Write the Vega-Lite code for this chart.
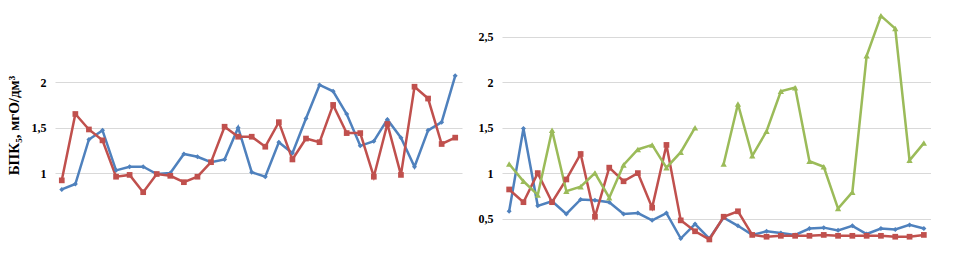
{
  "$schema": "https://vega.github.io/schema/vega-lite/v6.json",
  "background": "white",
  "padding": {"left": 6, "top": 10, "right": 0, "bottom": 0},
  "bounds": "flush",
  "spacing": 40,
  "config": {
    "view": {"stroke": null},
    "axis": {"labelFont": "Liberation Serif", "labelFontWeight": "bold", "labelFontSize": 12, "labelColor": "#000000", "titleFont": "Liberation Serif", "titleFontWeight": "bold", "titleFontSize": 15, "titleColor": "#000000", "gridColor": "#D9D9D9", "gridWidth": 1, "domain": false, "ticks": false, "labelOverlap": false}
  },
  "datasets": {
    "left": [
      {"i": 1, "s": "a", "v": 0.82}, {"i": 2, "s": "a", "v": 0.88}, {"i": 3, "s": "a", "v": 1.37}, {"i": 4, "s": "a", "v": 1.47}, {"i": 5, "s": "a", "v": 1.03},
      {"i": 6, "s": "a", "v": 1.07}, {"i": 7, "s": "a", "v": 1.07}, {"i": 8, "s": "a", "v": 0.99}, {"i": 9, "s": "a", "v": 1.0}, {"i": 10, "s": "a", "v": 1.21},
      {"i": 11, "s": "a", "v": 1.18}, {"i": 12, "s": "a", "v": 1.12}, {"i": 13, "s": "a", "v": 1.15}, {"i": 14, "s": "a", "v": 1.5}, {"i": 15, "s": "a", "v": 1.01},
      {"i": 16, "s": "a", "v": 0.96}, {"i": 17, "s": "a", "v": 1.34}, {"i": 18, "s": "a", "v": 1.22}, {"i": 19, "s": "a", "v": 1.6}, {"i": 20, "s": "a", "v": 1.97},
      {"i": 21, "s": "a", "v": 1.9}, {"i": 22, "s": "a", "v": 1.65}, {"i": 23, "s": "a", "v": 1.3}, {"i": 24, "s": "a", "v": 1.35}, {"i": 25, "s": "a", "v": 1.59},
      {"i": 26, "s": "a", "v": 1.39}, {"i": 27, "s": "a", "v": 1.07}, {"i": 28, "s": "a", "v": 1.47}, {"i": 29, "s": "a", "v": 1.56}, {"i": 30, "s": "a", "v": 2.07},
      {"i": 1, "s": "b", "v": 0.92}, {"i": 2, "s": "b", "v": 1.65}, {"i": 3, "s": "b", "v": 1.48}, {"i": 4, "s": "b", "v": 1.36}, {"i": 5, "s": "b", "v": 0.96},
      {"i": 6, "s": "b", "v": 0.98}, {"i": 7, "s": "b", "v": 0.79}, {"i": 8, "s": "b", "v": 0.99}, {"i": 9, "s": "b", "v": 0.97}, {"i": 10, "s": "b", "v": 0.9},
      {"i": 11, "s": "b", "v": 0.96}, {"i": 12, "s": "b", "v": 1.12}, {"i": 13, "s": "b", "v": 1.51}, {"i": 14, "s": "b", "v": 1.4}, {"i": 15, "s": "b", "v": 1.4},
      {"i": 16, "s": "b", "v": 1.29}, {"i": 17, "s": "b", "v": 1.56}, {"i": 18, "s": "b", "v": 1.15}, {"i": 19, "s": "b", "v": 1.38}, {"i": 20, "s": "b", "v": 1.34},
      {"i": 21, "s": "b", "v": 1.75}, {"i": 22, "s": "b", "v": 1.44}, {"i": 23, "s": "b", "v": 1.44}, {"i": 24, "s": "b", "v": 0.96}, {"i": 25, "s": "b", "v": 1.54},
      {"i": 26, "s": "b", "v": 0.98}, {"i": 27, "s": "b", "v": 1.95}, {"i": 28, "s": "b", "v": 1.82}, {"i": 29, "s": "b", "v": 1.32}, {"i": 30, "s": "b", "v": 1.39}
    ],
    "right": [
      {"i": 1, "s": "a", "v": 0.58}, {"i": 2, "s": "a", "v": 1.49}, {"i": 3, "s": "a", "v": 0.64}, {"i": 4, "s": "a", "v": 0.69}, {"i": 5, "s": "a", "v": 0.55},
      {"i": 6, "s": "a", "v": 0.71}, {"i": 7, "s": "a", "v": 0.7}, {"i": 8, "s": "a", "v": 0.68}, {"i": 9, "s": "a", "v": 0.55}, {"i": 10, "s": "a", "v": 0.56},
      {"i": 11, "s": "a", "v": 0.48}, {"i": 12, "s": "a", "v": 0.56}, {"i": 13, "s": "a", "v": 0.28}, {"i": 14, "s": "a", "v": 0.44}, {"i": 15, "s": "a", "v": 0.28},
      {"i": 16, "s": "a", "v": 0.51}, {"i": 17, "s": "a", "v": 0.42}, {"i": 18, "s": "a", "v": 0.32}, {"i": 19, "s": "a", "v": 0.36}, {"i": 20, "s": "a", "v": 0.34},
      {"i": 21, "s": "a", "v": 0.32}, {"i": 22, "s": "a", "v": 0.39}, {"i": 23, "s": "a", "v": 0.4}, {"i": 24, "s": "a", "v": 0.37}, {"i": 25, "s": "a", "v": 0.42},
      {"i": 26, "s": "a", "v": 0.33}, {"i": 27, "s": "a", "v": 0.39}, {"i": 28, "s": "a", "v": 0.38}, {"i": 29, "s": "a", "v": 0.43}, {"i": 30, "s": "a", "v": 0.39},
      {"i": 1, "s": "b", "v": 0.82}, {"i": 2, "s": "b", "v": 0.68}, {"i": 3, "s": "b", "v": 1.0}, {"i": 4, "s": "b", "v": 0.68}, {"i": 5, "s": "b", "v": 0.93},
      {"i": 6, "s": "b", "v": 1.21}, {"i": 7, "s": "b", "v": 0.52}, {"i": 8, "s": "b", "v": 1.06}, {"i": 9, "s": "b", "v": 0.91}, {"i": 10, "s": "b", "v": 1.0},
      {"i": 11, "s": "b", "v": 0.62}, {"i": 12, "s": "b", "v": 1.31}, {"i": 13, "s": "b", "v": 0.48}, {"i": 14, "s": "b", "v": 0.36}, {"i": 15, "s": "b", "v": 0.27},
      {"i": 16, "s": "b", "v": 0.52}, {"i": 17, "s": "b", "v": 0.58}, {"i": 18, "s": "b", "v": 0.32}, {"i": 19, "s": "b", "v": 0.3}, {"i": 20, "s": "b", "v": 0.31},
      {"i": 21, "s": "b", "v": 0.31}, {"i": 22, "s": "b", "v": 0.31}, {"i": 23, "s": "b", "v": 0.32}, {"i": 24, "s": "b", "v": 0.31}, {"i": 25, "s": "b", "v": 0.31},
      {"i": 26, "s": "b", "v": 0.31}, {"i": 27, "s": "b", "v": 0.31}, {"i": 28, "s": "b", "v": 0.3}, {"i": 29, "s": "b", "v": 0.3}, {"i": 30, "s": "b", "v": 0.32},
      {"i": 1, "s": "c", "v": 1.1}, {"i": 2, "s": "c", "v": 0.91}, {"i": 3, "s": "c", "v": 0.76}, {"i": 4, "s": "c", "v": 1.47}, {"i": 5, "s": "c", "v": 0.8},
      {"i": 6, "s": "c", "v": 0.85}, {"i": 7, "s": "c", "v": 1.0}, {"i": 8, "s": "c", "v": 0.73}, {"i": 9, "s": "c", "v": 1.09}, {"i": 10, "s": "c", "v": 1.26},
      {"i": 11, "s": "c", "v": 1.31}, {"i": 12, "s": "c", "v": 1.06}, {"i": 13, "s": "c", "v": 1.23}, {"i": 14, "s": "c", "v": 1.5}, {"i": 15, "s": "c", "v": null},
      {"i": 16, "s": "c", "v": 1.1}, {"i": 17, "s": "c", "v": 1.76}, {"i": 18, "s": "c", "v": 1.19}, {"i": 19, "s": "c", "v": 1.46}, {"i": 20, "s": "c", "v": 1.9},
      {"i": 21, "s": "c", "v": 1.94}, {"i": 22, "s": "c", "v": 1.13}, {"i": 23, "s": "c", "v": 1.07}, {"i": 24, "s": "c", "v": 0.61}, {"i": 25, "s": "c", "v": 0.79},
      {"i": 26, "s": "c", "v": 2.29}, {"i": 27, "s": "c", "v": 2.73}, {"i": 28, "s": "c", "v": 2.59}, {"i": 29, "s": "c", "v": 1.14}, {"i": 30, "s": "c", "v": 1.33}
    ]
  },
  "hconcat": [
    {
      "width": 407,
      "height": 250,
      "data": {"name": "left"},
      "encoding": {
        "x": {"field": "i", "type": "ordinal", "scale": {"type": "point", "padding": 0.5}, "axis": null},
        "y": {"field": "v", "type": "quantitative", "scale": {"domain": [0, 2.75], "nice": false, "zero": false},
          "axis": {"values": [1, 1.5, 2], "labelExpr": "replace(format(datum.value, ''), '.', ',')", "labelPadding": 9, "title": "БПК₅, мгО/дм³", "titlePadding": 10, "titleY": 111}},
        "color": {"field": "s", "type": "nominal", "scale": {"domain": ["a", "b", "c"], "range": ["#4F81BD", "#C0504D", "#9BBB59"]}, "legend": null},
        "order": {"field": "s"}
      },
      "layer": [
        {"mark": {"type": "line", "strokeWidth": 2.5, "invalid": "break-paths-show-domains"}, "encoding": {"detail": {"field": "s"}}},
        {"mark": {"type": "point", "filled": true, "opacity": 1}, "encoding": {
          "shape": {"field": "s", "type": "nominal", "scale": {"domain": ["a", "b", "c"], "range": ["diamond", "square", "triangle-up"]}, "legend": null},
          "size": {"field": "s", "type": "nominal", "scale": {"domain": ["a", "b", "c"], "range": [25, 40, 35]}, "legend": null}
        }}
      ]
    },
    {
      "width": 429,
      "height": 250,
      "data": {"name": "right"},
      "encoding": {
        "x": {"field": "i", "type": "ordinal", "scale": {"type": "point", "padding": 0.5}, "axis": null},
        "y": {"field": "v", "type": "quantitative", "scale": {"domain": [0, 2.75], "nice": false, "zero": false},
          "axis": {"values": [0.5, 1, 1.5, 2, 2.5], "labelExpr": "replace(format(datum.value, ''), '.', ',')", "labelPadding": 9, "title": null}},
        "color": {"field": "s", "type": "nominal", "scale": {"domain": ["a", "b", "c"], "range": ["#4F81BD", "#C0504D", "#9BBB59"]}, "legend": null},
        "order": {"field": "s"}
      },
      "layer": [
        {"mark": {"type": "line", "strokeWidth": 2.5, "invalid": "break-paths-show-domains"}, "encoding": {"detail": {"field": "s"}}},
        {"mark": {"type": "point", "filled": true, "opacity": 1}, "encoding": {
          "shape": {"field": "s", "type": "nominal", "scale": {"domain": ["a", "b", "c"], "range": ["diamond", "square", "triangle-up"]}, "legend": null},
          "size": {"field": "s", "type": "nominal", "scale": {"domain": ["a", "b", "c"], "range": [25, 40, 35]}, "legend": null}
        }}
      ]
    }
  ]
}
